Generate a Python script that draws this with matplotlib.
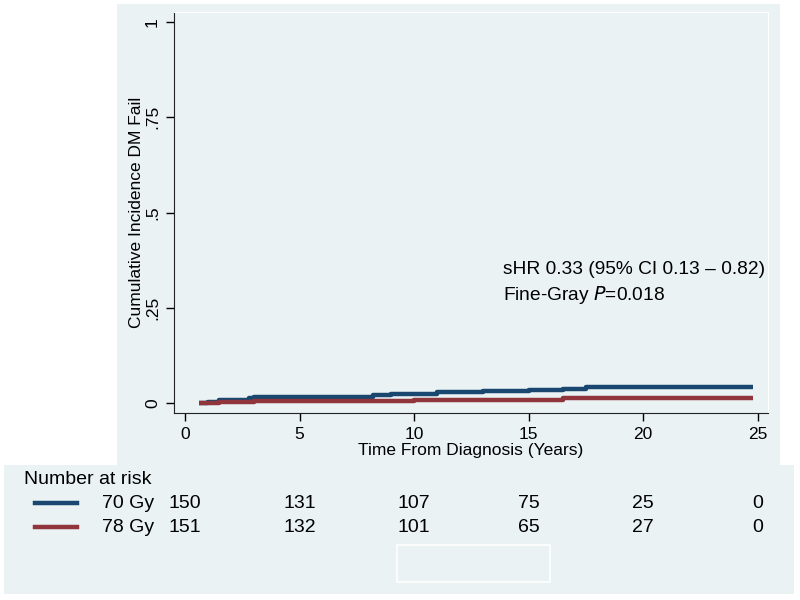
import numpy as np
import matplotlib
matplotlib.use("Agg")
import matplotlib.pyplot as plt
from matplotlib.patches import Rectangle
from matplotlib.lines import Line2D
from matplotlib.transforms import blended_transform_factory

# step curves (time in years, cumulative incidence)
t_70 = [0.6, 1.0, 1.5, 2.0, 2.8, 3.0, 5.8, 8.2, 9.0, 10.0, 11.0, 13.0, 15.0, 16.5, 17.5, 24.8]
ci_70 = [0.0, 0.003, 0.007, 0.009, 0.013, 0.015, 0.017, 0.020, 0.023, 0.025, 0.028, 0.031, 0.034, 0.037, 0.041, 0.041]
t_78 = [0.6, 1.5, 3.0, 10.0, 16.5, 24.8]
ci_78 = [0.0, 0.003, 0.006, 0.009, 0.013, 0.013]

groups = ['70 Gy', '78 Gy']
risk_times = [0, 5, 10, 15, 20, 25]
risk_70 = [150, 131, 107, 75, 25, 0]
risk_78 = [151, 132, 101, 65, 27, 0]

bg = '#EAF2F3'
navy = '#1A476F'
maroon = '#90353B'
plt.rcParams['font.family'] = ['Liberation Sans', 'DejaVu Sans']

W, H = 800.0, 600.0
fig = plt.figure(figsize=(8, 6), dpi=100)
fig.patch.set_facecolor('white')

# upper graph region and lower risk table region
fig.patches.append(Rectangle((117 / W, 1 - 465 / H), 663 / W, 461 / H,
                             transform=fig.transFigure, facecolor=bg, edgecolor='none', zorder=-2))
fig.patches.append(Rectangle((4 / W, 1 - 594 / H), 790 / W, 129 / H,
                             transform=fig.transFigure, facecolor=bg, edgecolor='none', zorder=-2))
# empty legend box
fig.patches.append(Rectangle((397 / W, 1 - 582 / H), 153 / W, 37 / H,
                             transform=fig.transFigure, facecolor=bg, edgecolor='white',
                             linewidth=1.2, zorder=-1))

ax = fig.add_axes([174 / W, 1 - 413 / H, 594 / W, 401 / H])
ax.set_zorder(2)
ax.set_facecolor(bg)
ax.step(t_70, ci_70, where='post', color=navy, linewidth=3.2, solid_capstyle='butt')
ax.step(t_78, ci_78, where='post', color=maroon, linewidth=3.2, solid_capstyle='butt')

ax.set_xlim(-0.48, 25.45)
ax.set_ylim(-0.026, 1.026)
ax.set_xticks([0, 5, 10, 15, 20, 25])
ax.set_yticks([0, 0.25, 0.5, 0.75, 1])
ax.set_yticklabels(['0', '.25', '.5', '.75', '1'], rotation=90, va='center')
ax.tick_params(direction='out', length=6, width=1, labelsize=12.5, pad=4)
for s in ['top', 'right']:
    ax.spines[s].set_color('white')
for s in ['left', 'bottom']:
    ax.spines[s].set_color('#222222')
ax.set_xlabel('Time From Diagnosis (Years)', fontsize=12.5, labelpad=1)
ax.set_ylabel('Cumulative Incidence DM Fail', fontsize=12.5, labelpad=1)

ax.text(0.554, 0.357, 'sHR 0.33 (95% CI 0.13 \u2013 0.82)', transform=ax.transAxes,
        fontsize=13.8, va='center', ha='left')
ax.text(0.554, 0.295, 'Fine-Gray $\\it{P}$=0.018', transform=ax.transAxes,
        fontsize=13.8, va='center', ha='left')

# number at risk table
fig.text(24 / W, 1 - 480 / H, 'Number at risk', fontsize=14, va='center', ha='left')
trans = blended_transform_factory(ax.transData, fig.transFigure)
rows = [(groups[0], risk_70, navy, 503), (groups[1], risk_78, maroon, 527)]
for name, counts, col, ypx in rows:
    y = 1 - ypx / H
    fig.lines.append(Line2D([35 / W, 77 / W], [y, y], transform=fig.transFigure,
                            color=col, linewidth=3.2))
    fig.text(102 / W, y, name, fontsize=14, va='center', ha='left')
    for tt, n in zip(risk_times, counts):
        fig.text(tt, y, str(n), transform=trans, fontsize=14, va='center', ha='center')

fig.savefig('out.png', dpi=100, facecolor='white')
